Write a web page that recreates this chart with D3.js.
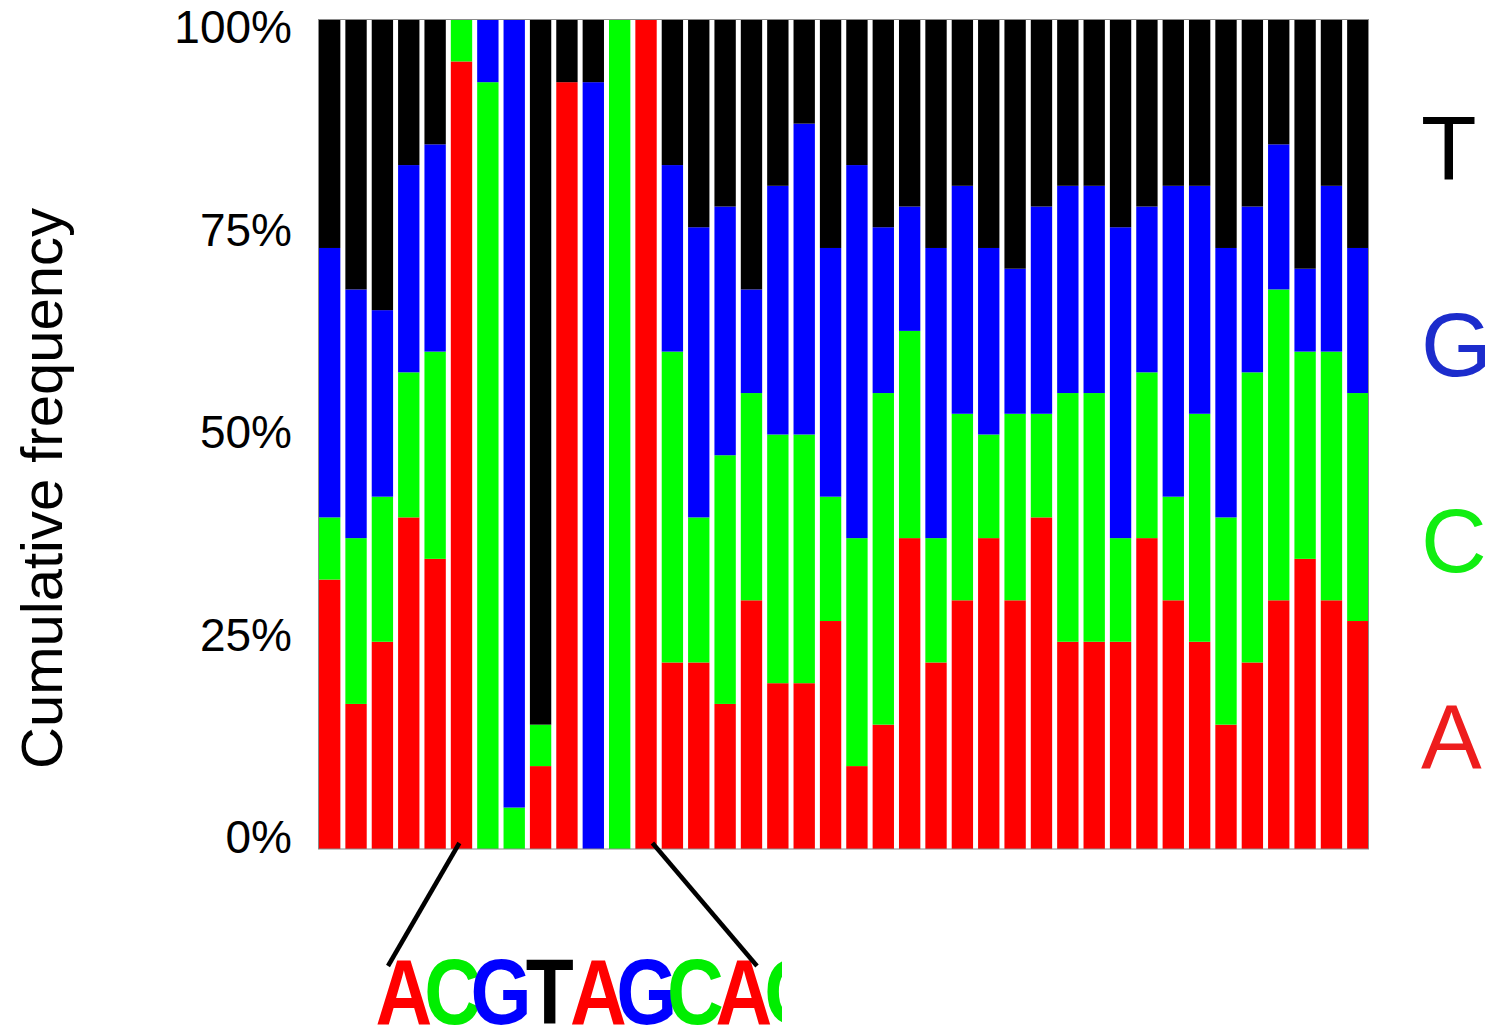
<!DOCTYPE html>
<html>
<head>
<meta charset="utf-8">
<script src="https://cdn.jsdelivr.net/npm/d3@7"></script>
<style>
  html, body { margin: 0; padding: 0; background: #fff; }
  svg { display: block; }
  text { font-family: "Liberation Sans", Arial, sans-serif; }
</style>
</head>
<body>
<svg id="chart" width="1488" height="1029"></svg>
<script>
// ---- data: counts per position (out of 40 sequences) ----
const positions = d3.range(1, 41);
const countA = [13,7,10,16,14,38,0,0,4,37,0,0,40,9,9,7,12,8,8,11,4,6,15,9,12,15,12,16,10,10,10,15,12,10,6,9,12,14,12,11];
const countC = [3,8,7,7,10,2,37,2,2,0,0,40,0,15,7,12,10,12,12,6,11,16,10,6,9,5,9,5,12,12,5,8,5,11,10,14,15,10,12,11];
const countG = [13,12,9,10,10,0,3,38,0,0,37,0,0,9,14,12,5,12,15,12,18,8,6,14,11,9,7,10,10,10,15,8,15,11,13,8,7,4,8,7];
const countT = [11,13,14,7,6,0,0,0,34,3,3,0,0,7,10,9,13,8,5,11,7,10,9,11,8,11,12,9,8,8,10,9,8,8,11,9,6,12,8,11];
const bases = ["A", "C", "G", "T"];
const yTicks = [0, 0.25, 0.5, 0.75, 1];
const yTickLabels = ["0%", "25%", "50%", "75%", "100%"];
const yTitle = "Cumulative frequency";
// logo window (0-based indices of the positions shown in the sequence logo)
const logoStart = 5, logoEnd = 13;
const zoomFrom = 5, zoomTo = 12;

// ---- styles ----
const barColor = { A: "#ff0000", C: "#00ff00", G: "#0000ff", T: "#000000" };
const legendColor = { A: "#ee1d1d", C: "#11ee11", G: "#1c2ccc", T: "#000000" };
const logoColor = { A: "#ff0000", C: "#00ee00", G: "#0000ff", T: "#000000" };

const svg = d3.select("#chart");
const margin = { left: 319, top: 20, right: 119.5, bottom: 180 };
const W = 1488, H = 1029;
const plotW = W - margin.left - margin.right;
const plotH = H - margin.top - margin.bottom;

const rows = positions.map((p, i) => {
  const total = countA[i] + countC[i] + countG[i] + countT[i];
  return { pos: p, A: countA[i] / total, C: countC[i] / total, G: countG[i] / total, T: countT[i] / total,
           raw: { A: countA[i], C: countC[i], G: countG[i], T: countT[i] } };
});

const x = d3.scaleBand().domain(positions).range([margin.left, margin.left + plotW]).paddingInner(0.19).paddingOuter(0);
const y = d3.scaleLinear().domain([0, 1]).range([margin.top + plotH, margin.top]);

const series = d3.stack().keys(bases)(rows);

svg.append("g").selectAll("g.series").data(series).join("g")
  .attr("class", "series")
  .attr("fill", d => barColor[d.key])
  .selectAll("rect").data(d => d).join("rect")
  .attr("x", d => x(d.data.pos))
  .attr("width", x.bandwidth())
  .attr("y", d => y(d[1]))
  .attr("height", d => Math.max(0, y(d[0]) - y(d[1])));

// frame
svg.append("rect")
  .attr("x", margin.left - 0.5).attr("y", margin.top - 0.5)
  .attr("width", plotW + 0.5).attr("height", plotH + 0.5)
  .attr("fill", "none").attr("stroke", "#8a8a8a").attr("stroke-width", 1);

// y tick labels (no tick marks)
const labelY = d3.scaleLinear().domain([0, 1]).range([y(0) + 4, y(1) + 23]);
svg.append("g").selectAll("text").data(yTicks).join("text")
  .attr("x", margin.left - 27)
  .attr("y", d => labelY(d))
  .attr("text-anchor", "end")
  .attr("font-size", 46)
  .attr("fill", "#000")
  .text((d, i) => yTickLabels[i]);

// y title
svg.append("text")
  .attr("transform", `translate(62, ${(y(0) + y(1)) / 2 + 54}) rotate(-90)`)
  .attr("text-anchor", "middle")
  .attr("font-size", 58)
  .attr("fill", "#000")
  .text(yTitle);

// legend letters on the right
const legendOrder = ["T", "G", "C", "A"];
const legendY = d3.scalePoint().domain(legendOrder).range([180, 768]);
svg.append("g").selectAll("text").data(legendOrder).join("text")
  .attr("x", 1421)
  .attr("y", d => legendY(d))
  .attr("font-size", 91)
  .attr("fill", d => legendColor[d])
  .text(d => d);

// sequence logo of the dominant base in a window
const logoIdx = d3.range(logoStart, logoEnd + 1);
const logoData = logoIdx.map(i => {
  const r = rows[i].raw;
  const best = bases.reduce((a, b) => (r[b] > r[a] ? b : a), "A");
  return { i, base: best };
});
const logoX = d3.scaleLinear().domain([logoStart, logoStart + 7]).range([404, 744]);
const logoBaseline = 1024;
svg.append("clipPath").attr("id", "logoClip")
  .append("rect").attr("x", 375).attr("y", 940).attr("width", 407).attr("height", 89);
svg.append("g").attr("clip-path", "url(#logoClip)")
  .selectAll("text").data(logoData).join("text")
  .attr("transform", d => `translate(${logoX(d.i)}, ${logoBaseline}) scale(0.84, 1)`)
  .attr("text-anchor", "middle")
  .attr("font-size", 93.6)
  .attr("font-weight", "bold")
  .attr("fill", d => logoColor[d.base])
  .text(d => d.base);

// connector lines from the bars to the logo
const connectors = [
  { x1: x(positions[zoomFrom]) + x.bandwidth() * 0.4, x2: 388 },
  { x1: x(positions[zoomTo]) + x.bandwidth() * 0.8, x2: 757 }
];
svg.append("g").selectAll("line").data(connectors).join("line")
  .attr("x1", d => d.x1).attr("y1", y(0) - 6)
  .attr("x2", d => d.x2).attr("y2", 966)
  .attr("stroke", "#000").attr("stroke-width", 4.5);
</script>
</body>
</html>
